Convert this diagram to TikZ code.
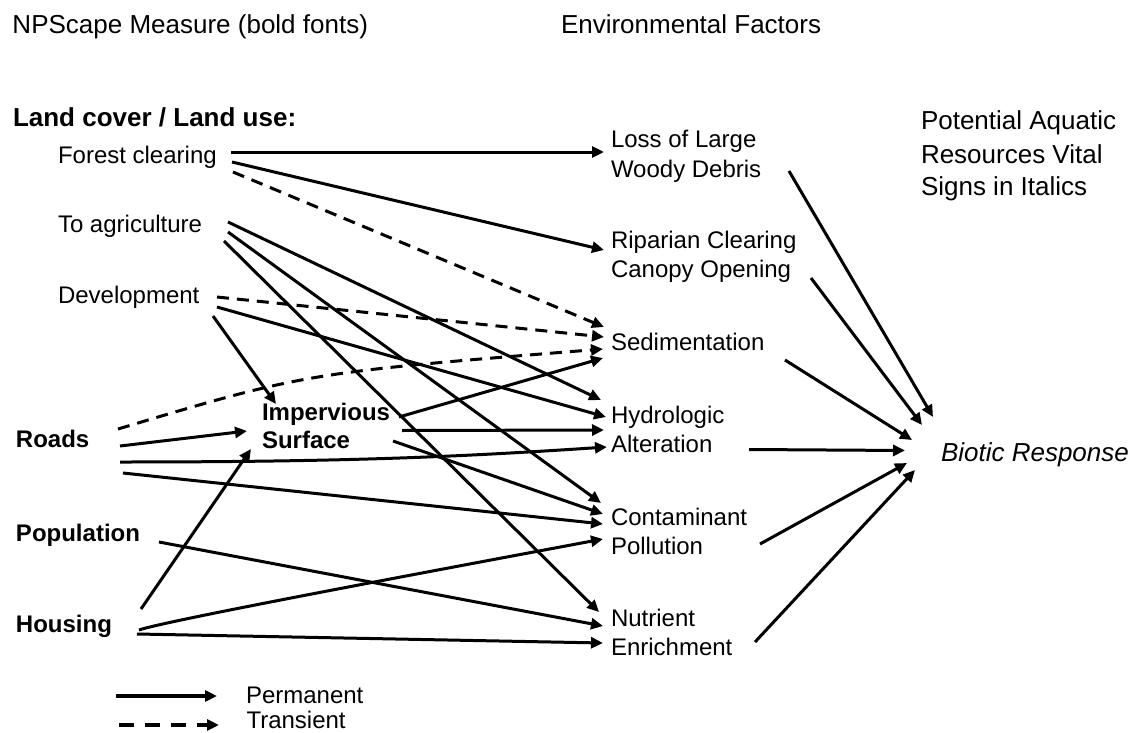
\documentclass[tikz,border=0pt]{standalone}
\usepackage{fontspec}
\setmainfont{Liberation Sans}
\usetikzlibrary{arrows.meta}

% label set in several left-aligned lines, baseline on the first line
\newcommand{\stackedlabel}[1]{\begin{tabular}[t]{@{}l@{}}#1\end{tabular}}

\begin{document}
\begin{tikzpicture}[
  x=1pt, y=-1pt,
  every node/.style={inner sep=0pt, outer sep=0pt, anchor=base west},
  lbl/.style={font=\fontsize{24}{29}\selectfont},
  blbl/.style={font=\fontsize{24}{28}\selectfont\bfseries},
  head/.style={font=\fontsize{26}{33}\selectfont},
  bhead/.style={font=\fontsize{26}{33}\selectfont\bfseries},
  perm/.style={line width=3pt, -{Triangle[length=12pt,width=11pt]}},
  trans/.style={perm, dash pattern=on 12pt off 8pt},
  legperm/.style={line width=4pt, -{Triangle[length=12pt,width=11pt]}},
  legtrans/.style={legperm, dash pattern=on 15pt off 11pt},
]
\useasboundingbox (0,0) rectangle (1137,733);

% headings
\node[head] (hdmeasure) at (12.5,34) {NPScape Measure (bold fonts)};
\node[head] (hdfactors) at (561,34) {Environmental Factors};
\node[bhead] (landcover) at (13,127) {Land cover / Land use:};
\node[head] (vital) at (921,130) {\fontsize{26}{33}\selectfont\stackedlabel{Potential Aquatic\\Resources Vital\\Signs in Italics}};

% NPScape measures
\node[lbl] (forest) at (58,163) {Forest clearing};
\node[lbl] (agri) at (58,232.5) {To agriculture};
\node[lbl] (devel) at (58,303) {Development};
\node[blbl] (roads) at (16,447) {Roads};
\node[blbl] (popul) at (16,541) {Population};
\node[blbl] (housing) at (16,632) {Housing};
\node[blbl] (imperv) at (262,420) {\fontsize{24}{28}\selectfont\stackedlabel{Impervious\\Surface}};

% environmental factors
\node[lbl] (lwd) at (611,147) {\fontsize{24}{30}\selectfont\stackedlabel{Loss of Large\\Woody Debris}};
\node[lbl] (ripar) at (611,248.5) {\fontsize{24}{28.5}\selectfont\stackedlabel{Riparian Clearing\\Canopy Opening}};
\node[lbl] (sedim) at (611,350) {Sedimentation};
\node[lbl] (hydro) at (611,423.5) {\fontsize{24}{29}\selectfont\stackedlabel{Hydrologic\\Alteration}};
\node[lbl] (contam) at (611,525.5) {\fontsize{24}{28.5}\selectfont\stackedlabel{Contaminant\\Pollution}};
\node[lbl] (nutri) at (611,626.5) {\fontsize{24}{28.5}\selectfont\stackedlabel{Nutrient\\Enrichment}};

% response
\node[head] (biotic) at (941,461.5) {\itshape Biotic Response};

% legend
\node[lbl] (permanent) at (246,703) {Permanent};
\node[lbl] (transient) at (246.5,728) {Transient};

% connector ends
\coordinate (fcA) at (231,152);  \coordinate (lwdIn) at (604,152);
\coordinate (fcB) at (232,162);  \coordinate (ripIn) at (604,250);
\coordinate (fcC) at (233,172);  \coordinate (sedA) at (604,327);
\coordinate (agA) at (228,222);  \coordinate (hyA) at (601,400);
\coordinate (agB) at (228,232);  \coordinate (coA) at (601,503);
\coordinate (agC) at (224,241);  \coordinate (nuA) at (599,612);
\coordinate (dvA) at (217,297);  \coordinate (sedB) at (604,337);
\coordinate (dvB) at (217,307);  \coordinate (hyB) at (606,417);
\coordinate (dvC) at (213,316);  \coordinate (imA) at (276,404);
\coordinate (rdA) at (118,429);  \coordinate (sedC) at (603,349);
\coordinate (rdB) at (120,446);  \coordinate (imB) at (247,431);
\coordinate (rdC) at (120,462);  \coordinate (alA) at (607,447);
\coordinate (rdD) at (123,473);  \coordinate (coC) at (603,524);
\coordinate (imC) at (399,417);  \coordinate (sedD) at (603,358);
\coordinate (imD) at (402,430.5);\coordinate (hyC) at (604,430);
\coordinate (imE) at (393,441);  \coordinate (coB) at (603,514);
\coordinate (ppA) at (159,542);  \coordinate (nuB) at (603,626);
\coordinate (hsA) at (141,609);  \coordinate (imF) at (251,449);
\coordinate (hsB) at (139,630);  \coordinate (coD) at (603,539);
\coordinate (hsC) at (137,634);  \coordinate (nuC) at (603,643);

\coordinate (lwdOut) at (789,171);   \coordinate (brA) at (933,417);
\coordinate (ripOut) at (811,278);   \coordinate (brB) at (922,425);
\coordinate (sedOut) at (785,360);   \coordinate (brC) at (912,440);
\coordinate (hyOut) at (749,449.5);  \coordinate (brD) at (905,450.5);
\coordinate (coOut) at (760,544);    \coordinate (brE) at (907,463);
\coordinate (nuOut) at (755,642);    \coordinate (brF) at (915,470);

\coordinate (legPa) at (116,696);  \coordinate (legPb) at (217,696);
\coordinate (legTa) at (119,725);  \coordinate (legTb) at (219,725);

% forest clearing
\draw[perm] (fcA) -- (lwdIn);
\draw[perm] (fcB) -- (ripIn);
\draw[trans] (fcC) -- (sedA);
% to agriculture
\draw[perm] (agA) -- (hyA);
\draw[perm] (agB) -- (coA);
\draw[perm] (agC) -- (nuA);
% development
\draw[trans] (dvA) -- (sedB);
\draw[perm] (dvB) -- (hyB);
\draw[perm] (dvC) -- (imA);
% roads
\draw[trans] (rdA) .. controls (305,373) .. (sedC);
\draw[perm] (rdB) -- (imB);
\draw[perm] (rdC) .. controls (360,462) and (470,456) .. (alA);
\draw[perm] (rdD) -- (coC);
% impervious surface
\draw[perm] (imC) -- (sedD);
\draw[perm] (imD) -- (hyC);
\draw[perm] (imE) -- (coB);
% population
\draw[perm] (ppA) -- (nuB);
% housing
\draw[perm] (hsA) -- (imF);
\draw[perm] (hsB) .. controls (165,621) and (400,577) .. (coD);
\draw[perm] (hsC) -- (nuC);

% factors to biotic response
\draw[perm] (lwdOut) -- (brA);
\draw[perm] (ripOut) -- (brB);
\draw[perm] (sedOut) -- (brC);
\draw[perm] (hyOut) -- (brD);
\draw[perm] (coOut) -- (brE);
\draw[perm] (nuOut) -- (brF);

% legend arrows
\draw[legperm] (legPa) -- (legPb);
\draw[legtrans] (legTa) -- (legTb);
\end{tikzpicture}
\end{document}
